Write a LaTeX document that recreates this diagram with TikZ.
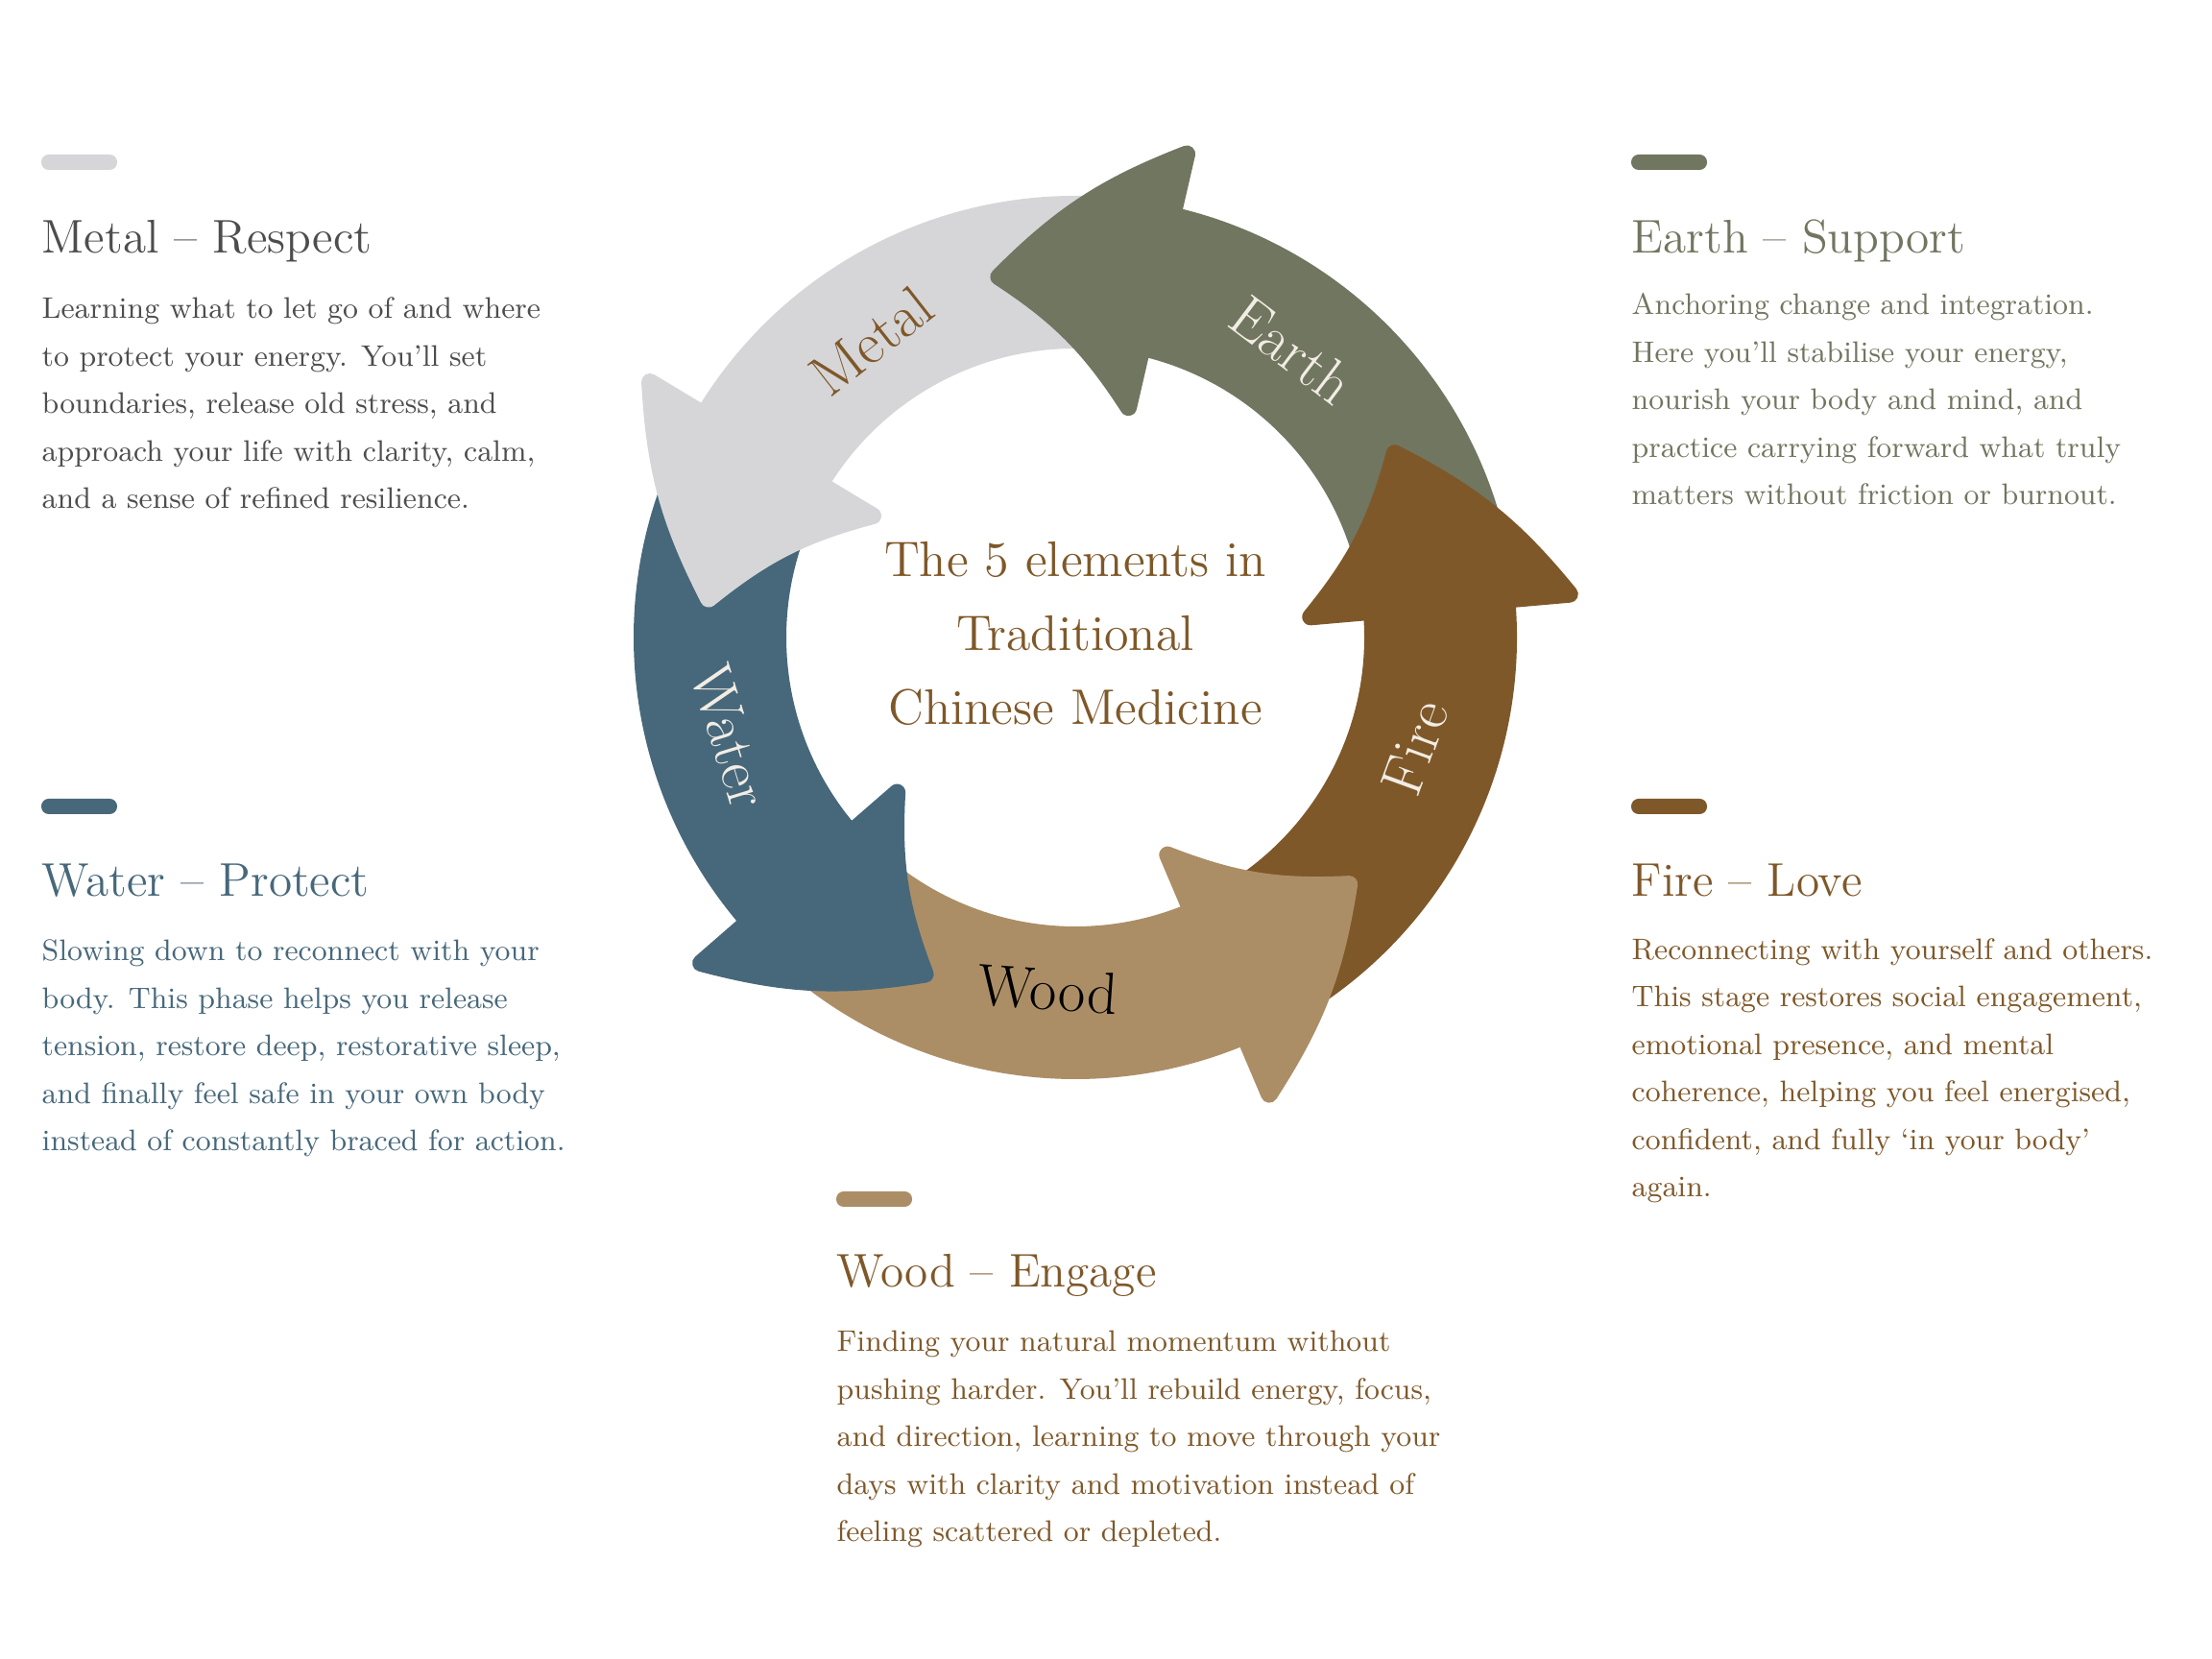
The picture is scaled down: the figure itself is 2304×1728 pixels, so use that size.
\documentclass[tikz,border=0pt]{standalone}
\usetikzlibrary{positioning}

\definecolor{metalc}{HTML}{D6D6D8}
\definecolor{earthc}{HTML}{717660}
\definecolor{firec}{HTML}{7F5829}
\definecolor{woodc}{HTML}{AC8E66}
\definecolor{waterc}{HTML}{47687B}
\definecolor{cream}{HTML}{F2EDE4}
\definecolor{greytext}{HTML}{4D4D4D}

\tikzset{
	blurb/.style = {anchor=base west, align=left, inner sep=0, font=\fontsize{8.8}{14.1}\selectfont},
	heading/.style = {anchor=base west, inner sep=0, font=\fontsize{14}{16}\selectfont},
	ringlabel/.style = {inner sep=0, font=\fontsize{17.5}{20}\selectfont},
	bar/.style = {rounded corners=2.2pt},
	arrowhead/.style = {line width=5pt, line join=round},
}

\begin{document}
\begin{tikzpicture}[x=0.01cm, y=0.01cm]
	\fill[white] (0,0) rectangle (2304,1728);
	\useasboundingbox (0,0) rectangle (2304,1728);
	\coordinate (C) at (1120,1064);

	\begin{scope}[shift={(C)}]
		% ring pieces first, heads on top
		\foreach \h/\col in {5/firec, 77/earthc, 149/metalc, 221/waterc, 293/woodc}
			\fill[\col] (\h-66:460) arc[start angle=\h-66, end angle=\h+2, radius=460]
				-- (\h+2:301) arc[start angle=\h+2, end angle=\h-66, radius=301] -- cycle;
		\foreach \h/\col in {5/firec, 77/earthc, 149/metalc, 221/waterc, 293/woodc}
			\filldraw[\col, arrowhead] (\h:517) to[bend right=12] (\h+25:384) to[bend left=12] (\h:246) -- cycle;

		\node[ringlabel, text=firec, rotate=38] (metalL) at (124.5:375) {Metal};
		\node[ringlabel, text=cream, rotate=-37] (earthL) at (53:375) {Earth};
		\node[ringlabel, text=cream, rotate=70] (fireL) at (-18:372) {Fire};
		\node[ringlabel, text=black, rotate=-4] (woodL) at (265.6:368) {Wood};
		\node[ringlabel, text=cream, rotate=-73] (waterL) at (196:374) {Water};
	\end{scope}

	\node[align=center, text=firec, font=\fontsize{14.8}{22}\selectfont] (centre) at (1120,1068) {The 5 elements in\\Traditional\\Chinese Medicine};

	% Metal
	\fill[metalc, bar] (43,1551) rectangle (122,1567);
	\node[heading, text=greytext] (metalT) at (43,1464) {Metal -- Respect};
	\node[blurb, text=greytext] (metalB) at (43,1198) {Learning what to let go of and where\\to protect your energy. You’ll set\\boundaries, release old stress, and\\approach your life with clarity, calm,\\and a sense of refined resilience.};

	% Earth
	\fill[earthc, bar] (1699,1551) rectangle (1778,1567);
	\node[heading, text=earthc] (earthT) at (1699,1464) {Earth -- Support};
	\node[blurb, text=earthc] (earthB) at (1699,1202) {Anchoring change and integration.\\Here you’ll stabilise your energy,\\nourish your body and mind, and\\practice carrying forward what truly\\matters without friction or burnout.};

	% Water
	\fill[waterc, bar] (43,880) rectangle (122,896);
	\node[heading, text=waterc] (waterT) at (43,794) {Water -- Protect};
	\node[blurb, text=waterc] (waterB) at (43,529) {Slowing down to reconnect with your\\body. This phase helps you release\\tension, restore deep, restorative sleep,\\and finally feel safe in your own body\\instead of constantly braced for action.};

	% Fire
	\fill[firec, bar] (1699,880) rectangle (1778,896);
	\node[heading, text=firec] (fireT) at (1699,794) {Fire -- Love};
	\node[blurb, text=firec] (fireB) at (1699,481) {Reconnecting with yourself and others.\\This stage restores social engagement,\\emotional presence, and mental\\coherence, helping you feel energised,\\confident, and fully ‘in your body’\\again.};

	% Wood
	\fill[woodc, bar] (871,471) rectangle (950,487);
	\node[heading, text=firec] (woodT) at (871,387) {Wood -- Engage};
	\node[blurb, text=firec] (woodB) at (871,122) {Finding your natural momentum without\\pushing harder. You’ll rebuild energy, focus,\\and direction, learning to move through your\\days with clarity and motivation instead of\\feeling scattered or depleted.};
\end{tikzpicture}
\end{document}
